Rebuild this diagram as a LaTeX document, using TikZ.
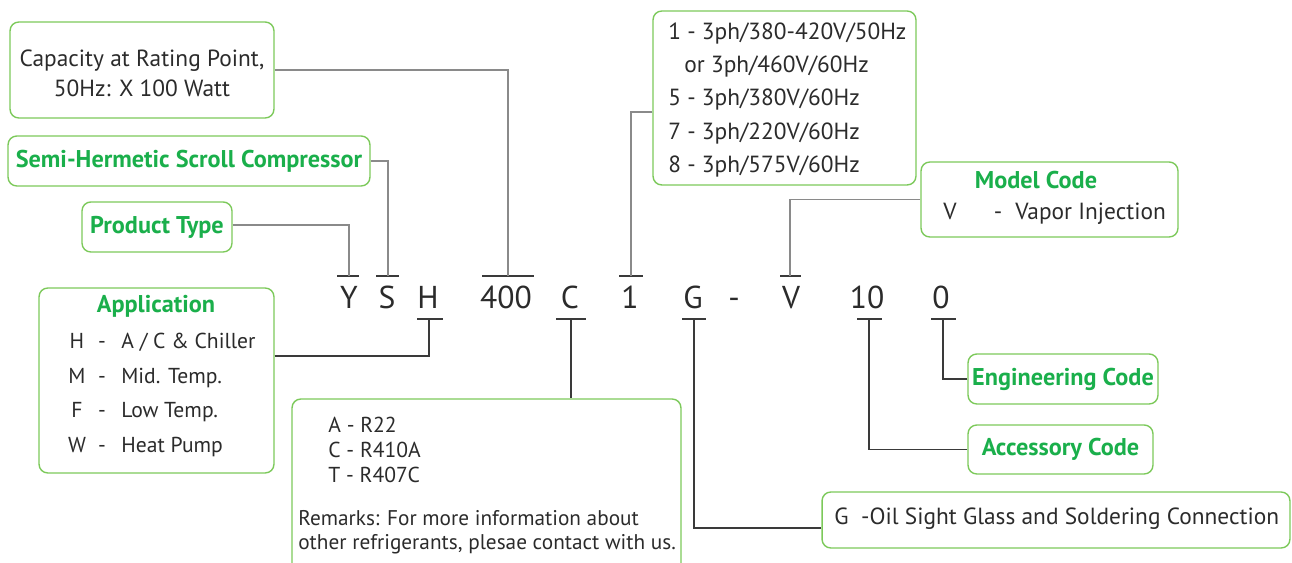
\documentclass[tikz,border=0pt]{standalone}
\usepackage{fontspec}
\setmainfont{PT Sans}
\usetikzlibrary{positioning,calc}
\definecolor{bxgreen}{HTML}{7CC95A}
\definecolor{ttgreen}{HTML}{1AAF4B}
\definecolor{txgray}{HTML}{2B2B2B}
\definecolor{lnlight}{HTML}{8A8A8A}
\definecolor{lndark}{HTML}{3A3A3A}
\newcommand{\ttlfont}{\fontsize{13.8}{16}\selectfont\bfseries\color{ttgreen}}

\begin{document}
\begin{tikzpicture}[
  x=0.02cm, y=-0.02cm,
  box/.style={draw=bxgreen, line width=0.8pt, rounded corners=5pt, inner sep=0pt},
  title/.style={font=\ttlfont, text=ttgreen, inner sep=0pt},
  txt/.style={font=\fontsize{12.3}{14}\selectfont, text=txgray, inner sep=0pt,
    text height=9pt, text depth=2.5pt},
  txtbig/.style={txt, font=\fontsize{13.3}{15}\selectfont},
  txtsmall/.style={txt, font=\fontsize{12.1}{14}\selectfont},
  code/.style={font=\fontsize{18}{20}\selectfont, text=txgray, inner sep=0pt,
    text height=12.5pt, text depth=0pt},
  upline/.style={draw=lnlight, line width=0.7pt},
  lowline/.style={draw=lndark, line width=0.6pt},
  bar/.style={draw=lndark, line width=0.7pt}
]
  \useasboundingbox (0,0) rectangle (1292,563);

  % Boxes
  \node[box, minimum width=5.28cm, minimum height=1.92cm] (capacity) at (142,70) {};
  \node[box, minimum width=7.24cm, minimum height=1cm] (semi) at (189,161)
    {\ttlfont Semi-Hermetic Scroll Compressor};
  \node[box, minimum width=3cm, minimum height=1cm] (product) at (157,227)
    {\ttlfont Product Type};
  \node[box, minimum width=4.7cm, minimum height=3.7cm] (app) at (156.5,380.5) {};
  \node[box, minimum width=7.78cm, minimum height=4.02cm] (refr) at (486.5,499.5) {};
  \node[box, minimum width=5.26cm, minimum height=3.48cm] (volt) at (784.5,98) {};
  \node[box, minimum width=5.14cm, minimum height=1.5cm] (model) at (1049.5,199.5) {};
  \node[box, minimum width=3.8cm, minimum height=1cm] (eng) at (1063,379)
    {\ttlfont Engineering Code};
  \node[box, minimum width=3.7cm, minimum height=0.98cm] (acc) at (1060.5,449.5)
    {\ttlfont Accessory Code};
  \node[box, minimum width=9.36cm, minimum height=1.12cm] (oil) at (1056,520) {};

  % Box texts
  \node[txtbig] (cap1) at (142,61) {Capacity at Rating Point,};
  \node[txtbig] (cap2) at (142,91) {50Hz: X 100 Watt};

  \node[title] (apptitle) at (156,306) {Application};
  \foreach \k/\d/\yy in {H/{A / C \& Chiller}/343, M/{Mid. Temp.}/378, F/{Low Temp.}/412, W/{Heat Pump}/447} {
    \node[txt] (appk\k) at (77,\yy) {\k};
    \node[txt] (appd\k) at (102,\yy) {-};
    \node[txt, anchor=west] (appt\k) at (121,\yy) {\d};
  }

  \node[txt, anchor=west] (rA) at (328,427) {A - R22};
  \node[txt, anchor=west] (rC) at (328,452) {C - R410A};
  \node[txt, anchor=west] (rT) at (328,477) {T - R407C};
  \node[txtsmall, anchor=west] (rem1) at (298,520) {Remarks: For more information about};
  \node[txtsmall, anchor=west] (rem2) at (298,544) {other refrigerants, plesae contact with us.};

  \node[txtbig, anchor=west] (v1) at (668,34) {1 - 3ph/380-420V/50Hz};
  \node[txtbig, anchor=west] (v1b) at (684,67) {or 3ph/460V/60Hz};
  \node[txtbig, anchor=west] (v5) at (668,100) {5 - 3ph/380V/60Hz};
  \node[txtbig, anchor=west] (v7) at (668,134) {7 - 3ph/220V/60Hz};
  \node[txtbig, anchor=west] (v8) at (668,167) {8 - 3ph/575V/60Hz};

  \node[title] (modeltitle) at (1036,180) {Model Code};
  \node[txtbig] (mV) at (950,214) {V};
  \node[txtbig] (mdash) at (998,214) {-};
  \node[txtbig, anchor=west] (mtext) at (1015,214) {Vapor Injection};

  \node[txtbig, anchor=west] (oiltext) at (834,519) {G\ \ -Oil Sight Glass and Soldering Connection};

  % Model number
  \foreach \c/\n/\xx in {Y/Y/349, S/S/387, H/H/428, 400/400/506, C/C/570, 1/1/630,
      G/G/693, dash/-/734, V/V/791, 10/10/867, 0/0/941}
    \node[code] (c\c) at (\xx,298) {\n};

  % Bars
  \foreach \xa/\xb in {337/359, 376/399, 482/534, 619/643, 780/801}
    \draw[bar] (\xa,276) -- (\xb,276);
  \foreach \xa/\xb in {417/443, 556/586, 682/706, 857/882, 931/956}
    \draw[bar] (\xa,319) -- (\xb,319);

  \coordinate (tY) at (349,276);
  \coordinate (tS) at (388,276);
  \coordinate (t400) at (508,276);
  \coordinate (t1) at (631,276);
  \coordinate (tV) at (790,276);
  \coordinate (bH) at (429,319);
  \coordinate (bC) at (571,319);
  \coordinate (bG) at (694,319);
  \coordinate (b10) at (869,319);
  \coordinate (b0) at (943,319);

  % Connectors
  \draw[upline] (capacity.east) -| (t400);
  \draw[upline] (semi.east) -| (tS);
  \draw[upline] (product.east) ++(0,-2) -| (tY);
  \draw[upline] (volt.west) ++(0,14) -| (t1);
  \draw[upline] (model.west) -| (tV);

  \draw[lowline] (app.east) ++(0,-24.5) -| (bH);
  \draw[lowline] (bC) -- (bC |- refr.north);
  \draw[lowline] (oil.west) ++(0,8) -| (bG);
  \draw[lowline] (acc.west) -| (b10);
  \draw[lowline] (eng.west) -| (b0);

\end{tikzpicture}
\end{document}
